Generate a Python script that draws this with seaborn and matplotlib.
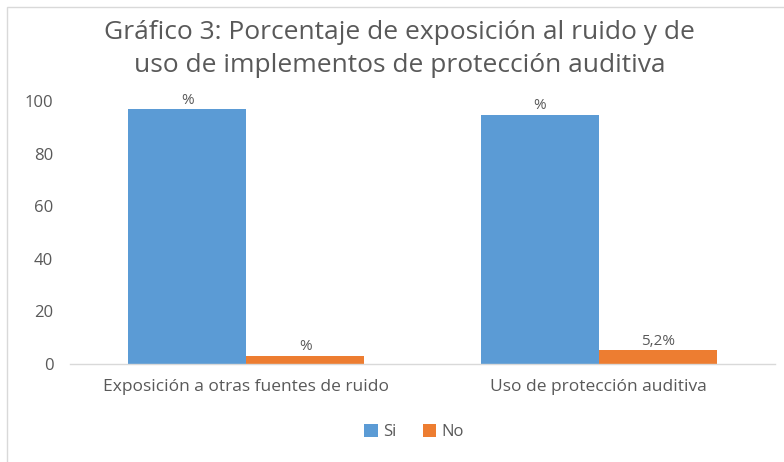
import matplotlib
matplotlib.use("Agg")
import matplotlib.pyplot as plt
import seaborn as sns
import pandas as pd
from matplotlib.patches import Rectangle, Patch

categories = ["Exposición a otras fuentes de ruido", "Uso de protección auditiva"]
series = ["Si", "No"]
si_values = [96.8, 94.8]
no_values = [3.2, 5.2]
si_labels = ["%", "%"]
no_labels = ["%", "5,2%"]
yticks = [0, 20, 40, 60, 80, 100]
title = "Gráfico 3: Porcentaje de exposición al ruido y de\nuso de implementos de protección auditiva"

colors = {"Si": "#5B9BD5", "No": "#ED7D31"}
text_color = "#595959"

df = pd.DataFrame({
    "categoria": categories * 2,
    "serie": ["Si"] * len(categories) + ["No"] * len(categories),
    "valor": si_values + no_values,
})

sns.set_style("white")
plt.rcParams["font.family"] = ["Open Sans", "DejaVu Sans"]

fig = plt.figure(figsize=(7.84, 4.62), dpi=100)
ax = fig.add_axes([70 / 784, 1 - 364 / 462, 705 / 784, 263 / 462])

sns.barplot(data=df, x="categoria", y="valor", hue="serie", hue_order=series,
            palette=colors, width=0.67, ax=ax, legend=False, saturation=1,
            edgecolor="none", linewidth=0)

labels = {"Si": si_labels, "No": no_labels}
for container, s in zip(ax.containers, series):
    ax.bar_label(container, labels=labels[s], padding=1, fontsize=11, color=text_color)

ax.set_xlim(-0.5, 1.5)
ax.set_ylim(0, 100)
ax.set_yticks(yticks)
ax.set_yticklabels([str(t) for t in yticks])
ax.tick_params(axis="y", length=0, labelsize=12, labelcolor=text_color, pad=12)
ax.tick_params(axis="x", length=0, labelsize=12.5, labelcolor=text_color, pad=11)
ax.set_xlabel("")
ax.set_ylabel("")
for side in ["left", "right", "top"]:
    ax.spines[side].set_visible(False)
ax.spines["bottom"].set_color("#D9D9D9")
ax.spines["bottom"].set_linewidth(1)

fig.text(0.51, 1 - 49 / 462, title, ha="center", va="center", fontsize=19,
         color=text_color, linespacing=1.4)

handles = [Patch(facecolor=colors[s], edgecolor="none") for s in series]
fig.legend(handles, series, loc="center", bbox_to_anchor=(0.528, 1 - 432 / 462),
           ncol=2, frameon=False, fontsize=12, labelcolor=text_color,
           handlelength=0.8, handleheight=0.8, handletextpad=0.3, columnspacing=1.6)

fig.patches.append(Rectangle((7 / 784, -0.1), 1.2, 1 - 7 / 462 + 0.1,
                             transform=fig.transFigure, fill=False,
                             edgecolor="#D9D9D9", linewidth=1))

fig.savefig("out.png", dpi=100)
